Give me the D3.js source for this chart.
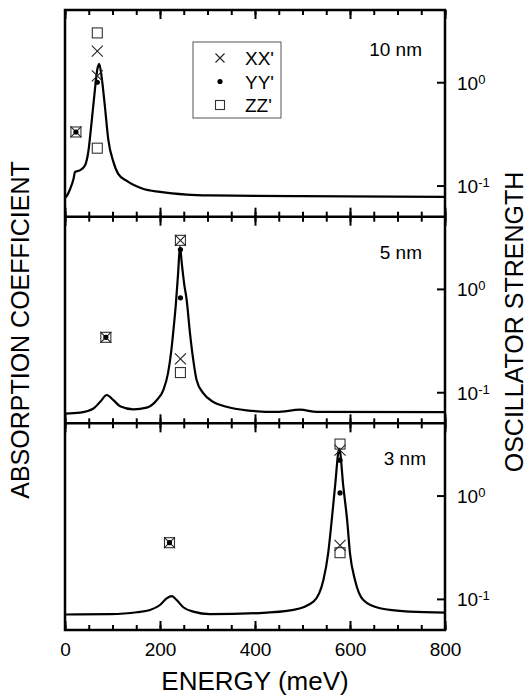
<!DOCTYPE html>
<html>
<head>
<meta charset="utf-8">
<script src="https://cdn.jsdelivr.net/npm/d3@7"></script>
<style>
  body { margin: 0; background: #fff; }
  text { font-family: "Liberation Sans", Arial, sans-serif; fill: #000; }
</style>
</head>
<body>
<div id="chart"></div>
<script>
// Data
//= ================================
var panelLabels = ["10 nm", "5 nm", "3 nm"];
var energyTicks = [0, 200, 400, 600, 800];
var energyMinorTicks = [0, 50, 100, 150, 200, 250, 300, 350, 400, 450, 500, 550, 600, 650, 700, 750, 800];
var strengthTicks = [0.1, 1];
var legendNames = ["XX'", "YY'", "ZZ'"];

// absorption coefficient, [energy (meV), arb. units]
var absorption10 = [[0, 0.091], [4, 0.101], [11, 0.135], [18, 0.183], [21, 0.216], [31, 0.224], [42, 0.248],
  [49, 0.313], [56, 0.457], [63, 0.615], [68, 0.712], [72, 0.740], [77, 0.678], [84, 0.534], [91, 0.375],
  [102, 0.264], [112, 0.207], [130, 0.173], [164, 0.135], [200, 0.120], [256, 0.107], [305, 0.103],
  [495, 0.099], [800, 0.096]];
var absorption5 = [[0, 0.047], [32, 0.052], [60, 0.072], [74, 0.104], [88, 0.137], [102, 0.112], [116, 0.083],
  [144, 0.068], [172, 0.076], [193, 0.112], [207, 0.161], [217, 0.244], [224, 0.356], [229, 0.468],
  [233, 0.566], [238, 0.722], [242, 0.854], [246, 0.771], [251, 0.673], [256, 0.600], [263, 0.439],
  [270, 0.307], [277, 0.210], [291, 0.146], [312, 0.104], [340, 0.080], [382, 0.063], [446, 0.055],
  [495, 0.066], [530, 0.055], [800, 0.054]];
var absorption3 = [[0, 0.075], [95, 0.077], [151, 0.086], [179, 0.097], [200, 0.121], [214, 0.153], [225, 0.164],
  [235, 0.145], [249, 0.110], [270, 0.089], [305, 0.077], [410, 0.082], [481, 0.097], [523, 0.137],
  [544, 0.242], [554, 0.371], [561.5, 0.531], [568.4, 0.692], [577.5, 0.878], [586, 0.692], [594, 0.531],
  [600, 0.371], [610.5, 0.242], [628, 0.145], [663, 0.105], [726, 0.089], [800, 0.084]];

// oscillator strength, [energy (meV), strength]
var xx10 = [[23, 0.33], [68, 2.0], [68, 1.15]];
var yy10 = [[23, 0.33], [68, 1.0]];
var zz10 = [[23, 0.33], [68, 3.0], [68, 0.23]];
var xx5 = [[86, 0.34], [243, 2.95], [243, 0.21]];
var yy5 = [[86, 0.34], [243, 2.4], [243, 0.82]];
var zz5 = [[86, 0.34], [243, 2.95], [243, 0.155]];
var xx3 = [[220, 0.35], [579, 2.75], [579, 0.33]];
var yy3 = [[220, 0.35], [579, 2.2], [579, 1.06]];
var zz3 = [[220, 0.35], [579, 3.15], [579, 0.28]];

var panels = [
  {label: panelLabels[0], curve: absorption10, xx: xx10, yy: yy10, zz: zz10, lx: 357, ly: 46},
  {label: panelLabels[1], curve: absorption5, xx: xx5, yy: yy5, zz: zz5, lx: 357, ly: 42},
  {label: panelLabels[2], curve: absorption3, xx: xx3, yy: yy3, zz: zz3, lx: 361, ly: 42}
];

// Set up chart
//= ================================
var svgWidth = 529;
var svgHeight = 696;
var margin = {top: 10, right: 84, bottom: 66, left: 65};
var width = svgWidth - margin.left - margin.right;
var height = svgHeight - margin.top - margin.bottom;
var panelHeight = height / 3;

var svg = d3.select("#chart")
  .append("svg")
  .attr("width", svgWidth)
  .attr("height", svgHeight);

var chartGroup = svg.append("g")
  .attr("transform", `translate(${margin.left}, ${margin.top})`);

var xScale = d3.scaleLinear().domain([0, 800]).range([0, width]);
var aScale = d3.scaleLinear().domain([0, 1]).range([panelHeight, 0]);
var fScale = d3.scaleLog().domain([0.05, 5]).range([panelHeight, 0]);

var line = d3.line()
  .x(d => xScale(d[0]))
  .y(d => aScale(d[1]))
  .curve(d3.curveMonotoneX);

function cross(sel, s) {
  return sel.append("path")
    .attr("d", `M${-s},${-s}L${s},${s}M${-s},${s}L${s},${-s}`)
    .attr("stroke", "#222")
    .attr("stroke-width", 1.1)
    .attr("fill", "none");
}

function tidy(g) {
  g.select(".domain").remove();
  g.selectAll(".tick line").attr("stroke", "#000").attr("stroke-width", 2);
}

panels.forEach(function(p, i) {
  var g = chartGroup.append("g")
    .attr("transform", `translate(0, ${i * panelHeight})`);

  // energy ticks, top and bottom of every panel, pointing inward
  g.append("g").call(d3.axisTop(xScale).tickValues(energyMinorTicks).tickSize(-5).tickFormat("")).call(tidy);
  g.append("g").call(d3.axisTop(xScale).tickValues(energyTicks).tickSize(-9).tickFormat("")).call(tidy);
  g.append("g").attr("transform", `translate(0, ${panelHeight})`)
    .call(d3.axisBottom(xScale).tickValues(energyMinorTicks).tickSize(-5).tickFormat("")).call(tidy);
  var bottomAxis = d3.axisBottom(xScale).tickValues(energyTicks).tickSize(-9).tickPadding(13);
  if (i < 2) bottomAxis.tickFormat("");
  g.append("g").attr("transform", `translate(0, ${panelHeight})`)
    .call(bottomAxis).call(tidy)
    .attr("font-size", 19).attr("font-family", null);

  // oscillator strength axis on the right
  var rightAxis = g.append("g").attr("transform", `translate(${width}, 0)`)
    .call(d3.axisRight(fScale).tickValues(strengthTicks).tickSize(-8).tickPadding(12).tickFormat(""))
    .call(tidy)
    .attr("font-size", 19).attr("font-family", null);
  rightAxis.selectAll(".tick text").each(function(d) {
    var t = d3.select(this);
    t.attr("dy", "0.36em");
    t.append("tspan").text("10");
    t.append("tspan").attr("dy", "-0.45em").attr("font-size", 13).text(Math.round(Math.log10(d)));
  });

  // absorption curve
  g.append("path")
    .datum(p.curve)
    .attr("d", line)
    .attr("fill", "none")
    .attr("stroke", "#000")
    .attr("stroke-width", 2.2);

  // oscillator strengths
  g.selectAll(".zz").data(p.zz).enter()
    .append("rect")
    .attr("x", d => xScale(d[0]) - 5)
    .attr("y", d => fScale(d[1]) - 5)
    .attr("width", 10).attr("height", 10)
    .attr("fill", "none").attr("stroke", "#333").attr("stroke-width", 1.1);
  g.selectAll(".xx").data(p.xx).enter()
    .append("g")
    .attr("transform", d => `translate(${xScale(d[0])}, ${fScale(d[1])})`)
    .each(function() { cross(d3.select(this), 5.5); });
  g.selectAll(".yy").data(p.yy).enter()
    .append("circle")
    .attr("cx", d => xScale(d[0]))
    .attr("cy", d => fScale(d[1]))
    .attr("r", 2.6)
    .attr("fill", "#000");

  g.append("text")
    .attr("x", p.lx).attr("y", p.ly)
    .attr("text-anchor", "end")
    .attr("font-size", 19)
    .text(p.label);
});

// frame
chartGroup.append("rect")
  .attr("width", width).attr("height", height)
  .attr("fill", "none").attr("stroke", "#000").attr("stroke-width", 2.5);
[1, 2].forEach(function(k) {
  chartGroup.append("line")
    .attr("x1", 0).attr("x2", width)
    .attr("y1", k * panelHeight).attr("y2", k * panelHeight)
    .attr("stroke", "#000").attr("stroke-width", 2.5);
});

// legend
var legend = chartGroup.append("g").attr("transform", "translate(128, 32)");
legend.append("rect")
  .attr("width", 88).attr("height", 76)
  .attr("fill", "#fff").attr("stroke", "#555").attr("stroke-width", 1);
legendNames.forEach(function(name, k) {
  var row = legend.append("g").attr("transform", `translate(27, ${16 + k * 23.5})`);
  if (k === 0) cross(row, 4.5);
  if (k === 1) row.append("circle").attr("r", 2.6).attr("fill", "#000");
  if (k === 2) row.append("rect").attr("x", -4.5).attr("y", -4.5).attr("width", 9).attr("height", 9)
    .attr("fill", "none").attr("stroke", "#333").attr("stroke-width", 1.1);
  row.append("text").attr("x", 25).attr("y", 7).attr("font-size", 19).text(name);
});

// axis titles
chartGroup.append("text")
  .attr("x", width / 2).attr("y", 680)
  .attr("text-anchor", "middle")
  .attr("font-size", 26)
  .text("ENERGY (meV)");

chartGroup.append("text")
  .attr("transform", `translate(-36, ${height / 2 + 10}) rotate(-90)`)
  .attr("text-anchor", "middle")
  .attr("font-size", 25)
  .text("ABSORPTION COEFFICIENT");

chartGroup.append("text")
  .attr("transform", `translate(458, ${height / 2 + 2}) rotate(-90)`)
  .attr("text-anchor", "middle")
  .attr("font-size", 25)
  .text("OSCILLATOR STRENGTH");
</script>
</body>
</html>
